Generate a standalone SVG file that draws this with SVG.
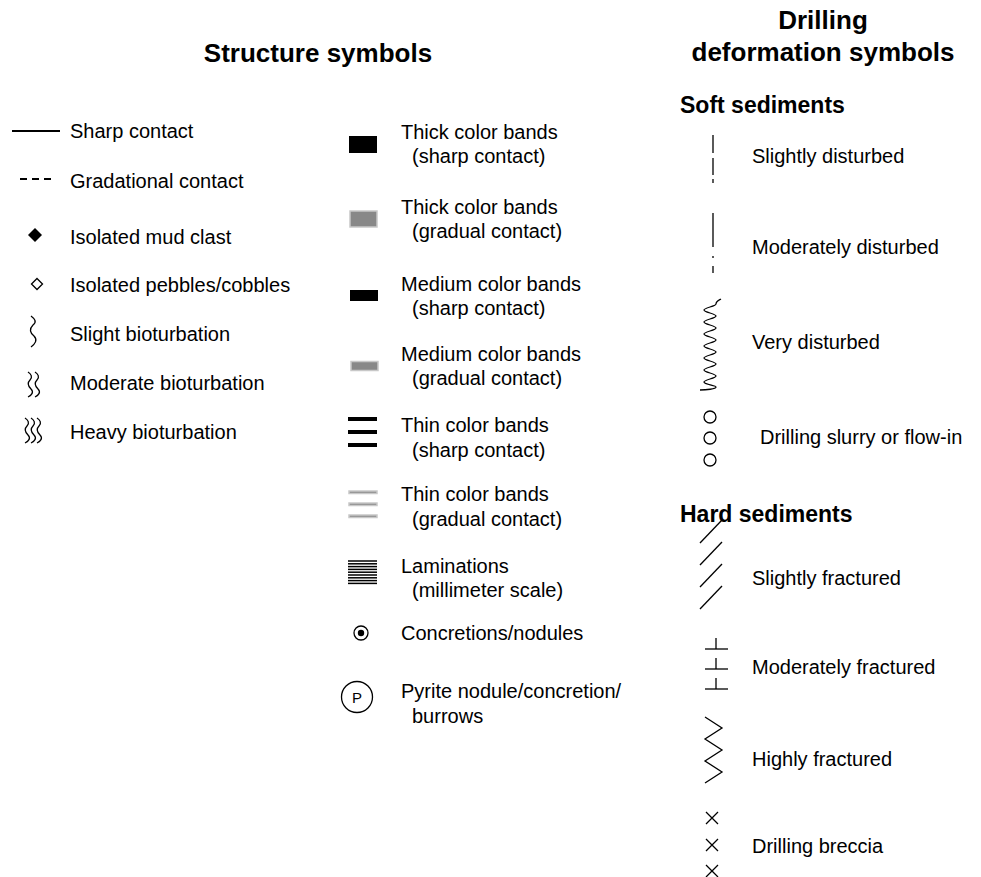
<svg xmlns="http://www.w3.org/2000/svg" width="981" height="877" viewBox="0 0 981 877">
<style>
text{font-family:"Liberation Sans",Arial,sans-serif;fill:#000}
.t{font-size:26px;font-weight:bold}
.h{font-size:23px;font-weight:bold}
.l{font-size:20px}
.s{fill:none;stroke:#000;stroke-width:1.3}
.gb{fill:#888;stroke:#c8c8c8;stroke-width:1.5}
</style>
<rect width="981" height="877" fill="#fff"/>
<g id="titles">
<text class="t" x="318" y="62" text-anchor="middle">Structure symbols</text>
<text class="t" x="823" y="29" text-anchor="middle">Drilling</text>
<text class="t" x="823" y="61" text-anchor="middle">deformation symbols</text>
<text class="h" x="680" y="113">Soft sediments</text>
<text class="h" x="680" y="522">Hard sediments</text>
</g>
<g id="sharp-contact"><line x1="12" y1="131" x2="60" y2="131" stroke="#000" stroke-width="2"/><text class="l" x="70" y="138">Sharp contact</text></g>
<g id="gradational-contact"><line x1="20" y1="179" x2="52" y2="179" stroke="#000" stroke-width="2" stroke-dasharray="7,5"/><text class="l" x="70" y="188">Gradational contact</text></g>
<g id="mud-clast"><polygon points="35,228 42,235 35,242 28,235" fill="#000"/><text class="l" x="70" y="244">Isolated mud clast</text></g>
<g id="pebbles"><polygon points="37,278.5 42.5,284 37,289.5 31.5,284" class="s"/><text class="l" x="70" y="292">Isolated pebbles/cobbles</text></g>
<g id="slight-bio"><path class="s" d="M31,316 C35,319 37,322 33,325 C29,329 30,333 34,336 C38,340 35,344 31,347"/><text class="l" x="70" y="341">Slight bioturbation</text></g>
<g id="moderate-bio"><path class="s" d="M28,372 C31,374 33,377 30,380 C27,383 28,386 31,389 C34,392 32,395 28,397"/><path class="s" d="M35,372 C38,374 40,377 37,380 C34,383 35,386 38,389 C41,392 39,395 35,397"/><text class="l" x="70" y="390">Moderate bioturbation</text></g>
<g id="heavy-bio"><path class="s" d="M25,418 C28,420 30,423 27,426 C24,429 25,432 28,435 C31,438 29,441 25,443"/><path class="s" d="M31,418 C34,420 36,423 33,426 C30,429 31,432 34,435 C37,438 35,441 31,443"/><path class="s" d="M37,418 C40,420 42,423 39,426 C36,429 37,432 40,435 C43,438 41,441 37,443"/><text class="l" x="70" y="439">Heavy bioturbation</text></g>

<g id="thick-sharp"><rect x="349" y="136" width="28" height="17" fill="#000"/><text class="l" x="401" y="139">Thick color bands</text><text class="l" x="412" y="163">(sharp contact)</text></g>
<g id="thick-gradual"><rect x="350" y="211" width="27" height="16" class="gb"/><text class="l" x="401" y="214">Thick color bands</text><text class="l" x="412" y="238">(gradual contact)</text></g>
<g id="medium-sharp"><rect x="350" y="290" width="28" height="11" fill="#000"/><text class="l" x="401" y="291">Medium color bands</text><text class="l" x="412" y="315">(sharp contact)</text></g>
<g id="medium-gradual"><rect x="351" y="361.5" width="27" height="9" class="gb"/><text class="l" x="401" y="361">Medium color bands</text><text class="l" x="412" y="385">(gradual contact)</text></g>
<g id="thin-sharp"><rect x="348" y="417" width="29" height="4" fill="#000"/><rect x="348" y="430" width="29" height="4" fill="#000"/><rect x="348" y="443" width="29" height="4" fill="#000"/><text class="l" x="401" y="432">Thin color bands</text><text class="l" x="412" y="457">(sharp contact)</text></g>
<g id="thin-gradual"><rect x="349" y="491" width="28" height="2.5" class="gb"/><rect x="349" y="503" width="28" height="2.5" class="gb"/><rect x="349" y="515" width="28" height="2.5" class="gb"/><text class="l" x="401" y="501">Thin color bands</text><text class="l" x="412" y="526">(gradual contact)</text></g>
<g id="laminations"><g stroke="#000" stroke-width="1.5"><line x1="348" y1="561" x2="377" y2="561"/><line x1="348" y1="563.8" x2="377" y2="563.8"/><line x1="348" y1="566.6" x2="377" y2="566.6"/><line x1="348" y1="569.4" x2="377" y2="569.4"/><line x1="348" y1="572.2" x2="377" y2="572.2"/><line x1="348" y1="575" x2="377" y2="575"/><line x1="348" y1="577.8" x2="377" y2="577.8"/><line x1="348" y1="580.6" x2="377" y2="580.6"/><line x1="348" y1="583.4" x2="377" y2="583.4"/></g><text class="l" x="401" y="573">Laminations</text><text class="l" x="412" y="597">(millimeter scale)</text></g>
<g id="concretions"><circle cx="361" cy="633" r="7" class="s" stroke-width="1.5"/><circle cx="361" cy="633" r="3.2" fill="#000"/><text class="l" x="401" y="640">Concretions/nodules</text></g>
<g id="pyrite"><circle cx="357" cy="697" r="15.5" class="s"/><text x="357" y="702.5" font-size="15" text-anchor="middle">P</text><text class="l" x="401" y="698">Pyrite nodule/concretion/</text><text class="l" x="412" y="723">burrows</text></g>

<g id="slightly-disturbed"><g stroke="#000" stroke-width="1.3"><line x1="713" y1="135" x2="713" y2="153"/><line x1="713" y1="158" x2="713" y2="175"/><line x1="713" y1="179" x2="713" y2="183"/></g><text class="l" x="752" y="163">Slightly disturbed</text></g>
<g id="moderately-disturbed"><g stroke="#000" stroke-width="1.3"><line x1="713" y1="213" x2="713" y2="247"/><line x1="713" y1="256" x2="713" y2="258"/><line x1="713" y1="266" x2="713" y2="273"/></g><text class="l" x="752" y="254">Moderately disturbed</text></g>
<g id="very-disturbed"><path class="s" d="M721,299 C719,300 716,301 716,304 C716,306.4 704,307.6 704,310 C704,312.4 716,313.6 716,316 C716,318.4 704,319.6 704,322 C704,324.4 716,325.6 716,328 C716,330.4 704,331.6 704,334 C704,336.4 716,337.6 716,340 C716,342.4 704,343.6 704,346 C704,348.4 716,349.6 716,352 C716,354.4 704,355.6 704,358 C704,360.4 716,361.6 716,364 C716,366.4 704,367.6 704,370 C704,372.4 716,373.6 716,376 C716,378.4 704,379.6 704,382 C704,384.4 716,385.6 716,387 C716,389 706,390 700,390"/><text class="l" x="752" y="349">Very disturbed</text></g>
<g id="slurry"><circle cx="710" cy="417" r="6" class="s"/><circle cx="710" cy="438" r="6" class="s"/><circle cx="710" cy="460" r="6" class="s"/><text class="l" x="760" y="444">Drilling slurry or flow-in</text></g>
<g id="slightly-fractured"><g stroke="#000" stroke-width="1.3"><line x1="700" y1="543" x2="722" y2="520"/><line x1="700" y1="565" x2="722" y2="542"/><line x1="700" y1="587" x2="722" y2="564"/><line x1="700" y1="609" x2="722" y2="586"/></g><text class="l" x="752" y="585">Slightly fractured</text></g>
<g id="moderately-fractured"><g stroke="#000" stroke-width="1.3"><line x1="705" y1="649" x2="728" y2="649"/><line x1="716" y1="638" x2="716" y2="649"/><line x1="705" y1="669" x2="728" y2="669"/><line x1="716" y1="658" x2="716" y2="669"/><line x1="705" y1="689" x2="728" y2="689"/><line x1="716" y1="678" x2="716" y2="689"/></g><text class="l" x="752" y="674">Moderately fractured</text></g>
<g id="highly-fractured"><polyline class="s" points="705,717 722,728 705,739 722,750 705,761 722,772 705,783"/><text class="l" x="752" y="766">Highly fractured</text></g>
<g id="breccia"><g stroke="#000" stroke-width="1.3"><path d="M706,812 L718,824 M718,812 L706,824"/><path d="M706,839 L718,851 M718,839 L706,851"/><path d="M706,865 L718,877 M718,865 L706,877"/></g><text class="l" x="752" y="853">Drilling breccia</text></g>
<g id="connectors"></g>
</svg>
